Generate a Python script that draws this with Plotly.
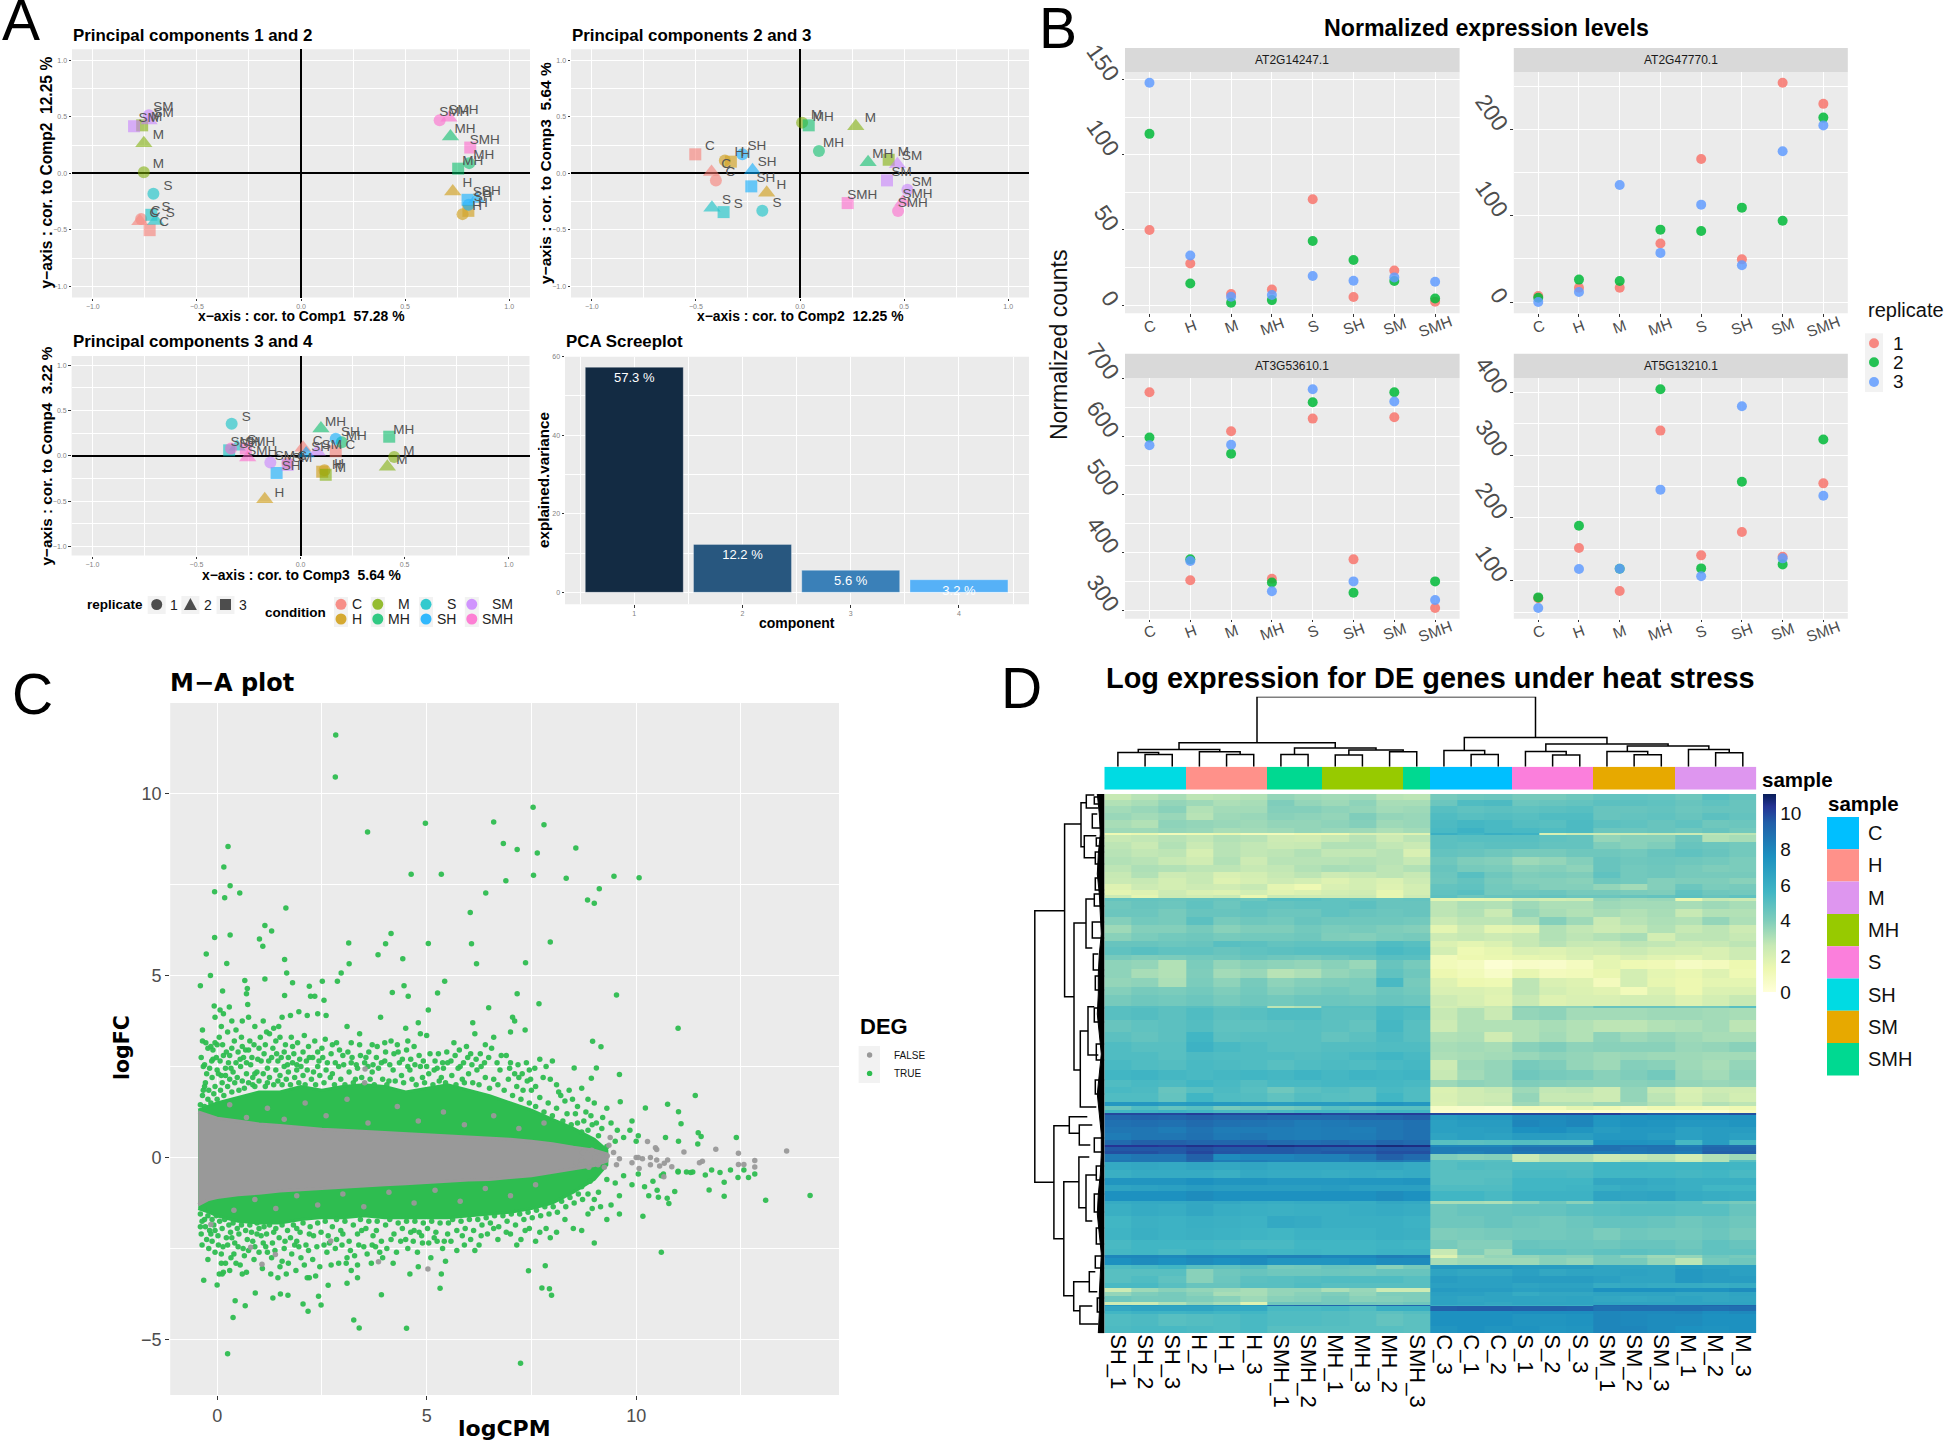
import plotly.graph_objects as go

W, H = 1944, 1440
FONT = "Liberation Sans"

# ---------- Panel A data ----------
CONDITIONS = ["C", "H", "M", "MH", "S", "SH", "SM", "SMH"]
COND_COLORS = ["#F8766D", "#CD9600", "#7CAE00", "#00BE67", "#00BFC4", "#00A9FF", "#C77CFF", "#FF61CC"]
PC1 = [-.768,-.774,-.727, .776,.729,.804, -.755,-.755,-.763, .808,.718,.755, -.709,-.698,-.719, .805,.844,.80, -.731,-.73,-.802, .666,.711,.813]
PC2 = [-.404,-.425,-.503, -.361,-.16,-.332, .01,.268,.426, .091,.327,.042, -.181,-.423,-.367, -.277,-.228,-.234, .516,.468,.418, .471,.494,.229]
PC3 = [-.062,.012,.169, .115,-.172,.104, .45,.417,.121, .198,.098,.426, -.331,-.305,-.343, .169,.027,-.115, -.145,.08,-.062, -.334,-.254,-.263]
PC4 = [-.08,.088,.05, -.16,-.48,-.176, -.015,-.12,-.21, .15,.30,.21, .353,.1,.06, .187,.025,-.19, -.074,.044,-.10, .08,-.02,.08]
SCREE_X = [1, 2, 3, 4]
SCREE_Y = [57.3, 12.2, 5.6, 3.2]
SCREE_TXT = ["57.3 %", "12.2 %", "5.6 %", "3.2 %"]
SCREE_COL = ["#132B43", "#28577F", "#3A80B8", "#56B1F7"]

# ---------- Panel B data ----------
B_GENES = ["AT2G14247.1", "AT2G47770.1", "AT3G53610.1", "AT5G13210.1"]
B1_R1 = [50,27.7,7.3,10.4,70.5,5.3,23,2.2]
B1_R2 = [114,14.4,1.5,3.3,42.6,30,16,4.4]
B1_R3 = [148,33,5.5,6.7,19.3,16.2,18.4,15.5]
B2_R1 = [7,16.6,16.6,68,166,49.5,254.5,230]
B2_R2 = [5,26,24.4,84,82.4,109.5,94.4,214]
B2_R3 = [0,11.6,135.8,57,113,42.6,175,205]
B3_R1 = [676,352,608.6,354.6,630.5,388,633,304]
B3_R2 = [598,388,570,348,658.6,330.5,676,350]
B3_R3 = [584.5,385,585.6,333,681,350,660,318]
B4_R1 = [72,152,83.5,339,140.4,177.5,138,255]
B4_R2 = [73.4,187.6,119,405,119.6,257.7,126,325]
B4_R3 = [56.5,118.6,119,245,107,377.7,135.6,235.4]
REP_COLORS = ["#F8766D", "#00BA38", "#619CFF"]

# ---------- Panel C data ----------
ENV_X = [-0.45,-0.2,0,0.5,1,1.5,2,2.5,3,3.5,4,4.5,5,5.5,6,6.5,7,7.5,8,8.5,9,9.3]
GREY_UP = [1.25,1.15,1.08,1.0,.92,.88,.82,.78,.75,.72,.68,.65,.62,.60,.58,.55,.5,.45,.38,.28,.2,.1]
GREY_LO = [-1.3,-1.15,-1.1,-1.02,-.98,-.92,-.88,-.85,-.82,-.78,-.75,-.72,-.7,-.66,-.62,-.6,-.55,-.5,-.42,-.32,-.22,-.1]
GREEN_UP = [1.3,1.4,1.5,1.65,1.8,1.8,1.95,1.85,1.95,2.0,1.95,1.8,1.9,2.0,1.85,1.7,1.5,1.3,1.05,.8,.5,.2]
GREEN_LO = [-1.4,-1.5,-1.6,-1.75,-1.8,-1.8,-1.7,-1.65,-1.65,-1.6,-1.65,-1.65,-1.65,-1.65,-1.6,-1.55,-1.5,-1.4,-1.25,-.95,-.6,-.2]
GREEN_TOP = [(2.83,11.6),(2.82,10.45),(7.54,9.62),(4.97,9.18),(6.6,9.21),(7.8,9.14),(3.59,8.94),(6.83,8.62),(7.16,8.46),(7.64,8.36),(8.56,8.5),(.26,8.54),(.16,7.98),(4.63,7.78),(5.35,7.78),(7.55,7.75),(6.89,7.6),(8.33,7.67),(9.47,7.72),(10.07,7.68),(.31,7.46),(-.06,7.3),(.54,7.26),(.18,7.13),(6.41,7.26),(9.12,7.38),(8.84,7.07),(9.0,6.98),(1.64,6.85),(6.04,6.73),(1.14,6.37),(1.3,6.22),(4.15,6.15),(.31,6.11),(-.06,6.04),(1.01,6.0),(3.14,5.89),(5.04,5.88),(4.02,5.87),(6.07,5.87),(7.95,5.92),(1.09,5.8),(-.26,5.59),(3.84,5.57),(4.43,5.46),(1.61,5.44),(.23,5.33),(3.15,5.32),(6.19,5.32),(7.36,5.35),(1.66,5.07),(2.96,5.07),(-.16,5.0),(1.14,4.9),(.66,4.86),(2.51,4.84),(2.87,4.84),(5.43,4.84),(-.4,4.72),(1.8,4.8),(2.2,4.7),(4.46,4.72),(.72,4.64),(.13,4.57),(4.18,4.53),(5.26,4.52),(.7,4.5),(1.61,4.45),(2.23,4.43),(2.33,4.43),(4.56,4.43),(7.16,4.5),(9.53,4.46),(2.55,4.32),(7.68,4.22),(-.07,4.16),(.29,4.13),(.73,4.2),(6.48,4.11),(5.04,4.05),(.07,4.05),(11.0,3.55),(11.41,1.7),(11.01,1.26),(10.75,1.46),(11.07,.93),(10.22,1.36),(9.62,1.53),(9.6,2.28),(9.16,3.04),(8.96,3.19),(9.05,2.46),(8.93,2.18),(8.52,2.46),(12.39,.55),(11.48,.68),(11.55,.58),(11.01,.45),(10.7,.55),(11.47,.37)]
GREEN_MID_UP = [(-.35,3.5),(-.35,3.2),(-.33,2.5),(-.3,2.55),(-.25,2.3),(-.33,1.85),(-.3,1.95),(-.22,3.0),(-.15,3.05),(-.1,2.95),(-.05,3.15),(0,3.1),(.05,3.3),(-.1,2.7),(0,2.4),(.1,2.25),(.2,2.25),(.15,2.8),(.3,2.8),(.35,3.0),(.45,2.6),(.55,2.7),(.75,2.95),(.7,2.6),(.9,2.3),(1,3.0),(1.15,3.1),(1.25,3.4),(1.35,3.55),(1.4,3.2),(1.5,3.3),(1.6,2.9),(1.7,2.75),(1.8,3.05),(1.9,2.55),(2.05,2.9),(2.2,2.75),(2.4,2.9),(2.5,3.0),(2.75,3.1),(2.85,3.15),(3,2.8),(3.2,3.15),(3.4,3.1),(3.55,2.75),(3.7,3.1),(3.8,2.75),(4,3.15),(4.15,3.2),(4.3,3.1),(4.55,3.2),(4.7,3.05),(4.85,2.5),(4.6,2.4),(5,2.5),(5.2,2.65),(5.4,2.45),(5.65,3.15),(5.8,2.5),(5.95,3.05),(6.05,2.85),(6.3,2.5),(6.55,3.0),(6.9,2.8),(7.0,2.6),(7.1,2.3),(7.45,2.4),(7.7,2.7),(7.85,2.5),(8.0,2.65),(.6,3.75),(.75,3.85),(.9,3.6),(1.1,3.75),(1.55,3.85),(1.75,3.9),(1.95,4.0),(2.15,3.9),(2.4,3.95),(2.6,3.9),(3.1,3.6),(3.4,3.4),(3.9,3.85),(4.5,3.55),(4.8,3.7),(4.85,3.4),(5.0,3.35),(6.1,3.7),(6.15,3.4),(7.05,3.85),(7.1,3.75),(7.35,3.5),(7.0,3.45),(6.6,3.3),(6.4,3.1),(.45,3.5),(.35,3.75),(.25,3.45),(.1,3.6),(.15,3.95),(-.05,3.85),(.6,3.05),(.85,2.0),(1.2,2.05),(1.45,2.1),(2.3,2.35),(2.75,2.3),(3.3,2.15),(3.7,2.35),(4.1,2.1),(4.4,2.25),(5.3,2.1),(5.9,2.05),(6.6,2.15),(7.2,2.2),(7.4,2.1),(7.6,1.95),(8.1,2.0),(8.4,1.85),(8.7,1.9),(9.0,1.5),(9.3,1.35),(8.85,1.6),(8.6,1.4),(8.2,1.7),(8.75,1.0),(8.95,.9),(9.2,1.1),(9.4,.95),(9.55,.75),(9.7,.55),(9.85,.75),(10.0,.45),(9.5,.45),(9.1,.6),(9.3,.3),(9.9,1.0),(10.05,.6)]
GREEN_MID_LO = [(-.4,-1.9),(-.38,-2.1),(-.3,-1.7),(-.25,-2.25),(-.2,-2.5),(-.15,-2.1),(-.05,-2.0),(-.05,-2.6),(.1,-2.65),(.25,-2.4),(.35,-2.2),(.4,-2.65),(.15,-3.15),(.1,-2.9),(.3,-3.1),(.55,-2.95),(.7,-3.15),(.85,-2.3),(.95,-2.1),(1.1,-2.35),(1.2,-2.6),(1.3,-2.75),(1.5,-3.0),(1.45,-3.3),(1.65,-3.2),(1.7,-2.9),(1.85,-2.4),(2.0,-2.75),(2.2,-3.3),(2.35,-3.25),(2.55,-2.4),(2.2,-2.1),(2.65,-2.15),(2.85,-2.25),(2.9,-2.9),(3.1,-2.75),(3.2,-3.1),(3.35,-2.95),(3.5,-2.45),(3.7,-2.4),(3.8,-2.0),(3.95,-2.75),(4.2,-2.9),(4.5,-2.25),(4.7,-2.0),(4.9,-2.35),(5.1,-2.75),(5.25,-2.3),(5.45,-2.85),(5.5,-2.1),(5.9,-2.4),(6.15,-2.55),(6.3,-2.15),(6.6,-1.95),(7.0,-2.1),(7.15,-2.4),(7.35,-2.0),(7.6,-2.3),(7.85,-1.95),(8.1,-2.05),(8.7,-2.0),(9.0,-2.35),(9.3,-1.7),(9.6,-1.55),(4.6,-3.2),(4.8,-3.0),(5.35,-3.2),(.0,-3.5),(.05,-3.2),(1.35,-2.05),(1.0,-1.95),(3.35,-3.3),(3.45,-2.0),(3.0,-2.1),(3.1,-3.45),(1.9,-1.95),(2.15,-3.3),(8.7,-.8),(8.9,-.65),(9.1,-.95),(9.3,-.6),(9.5,-.7),(9.7,-.5),(9.9,-.75),(10.05,-.45),(10.2,-.8),(10.4,-.65),(10.6,-.5),(9.6,-1.05),(9.4,-1.3),(9.0,-1.15),(10.3,-1.05),(10.5,-.9),(10.65,-.45),(8.85,-1.0),(9.15,-1.35),(11.0,-.4),(11.2,-.4),(11.35,-.4)]
GREEN_EDGE_UP = [(-.4,1.45),(-.35,1.7),(-.3,1.4),(-.28,2.05),(-.22,1.6),(-.2,1.85),(-.15,1.5),(-.12,2.2),(-.08,1.75),(-.05,1.95),(0,1.6),(.03,2.3),(.08,1.85),(.12,2.05),(.16,1.7),(.2,2.45),(.25,1.95),(.3,2.15),(.35,1.8),(.38,2.35),(.42,2.05),(.48,2.2),(.52,1.85),(.56,2.5),(.6,2.1),(.65,1.9),(.7,2.3),(.75,2.05),(.8,2.55),(.85,2.2),(.9,1.95),(.95,2.35),(1,2.1),(1.05,2.65),(1.1,2.3),(1.15,1.95),(1.2,2.45),(1.25,2.2),(1.3,2.75),(1.35,2.0),(1.4,2.4),(1.45,2.65),(1.5,2.25),(1.55,2.0),(1.6,2.5),(1.65,2.15),(1.7,2.35),(1.75,2.0),(1.8,2.6),(1.85,2.2),(1.9,2.4),(1.95,2.05),(2.0,2.5),(2.05,2.25),(2.1,2.0),(2.15,2.4),(2.25,2.15),(2.35,2.0),(2.4,2.5),(2.45,2.25),(2.55,2.05),(2.6,2.4),(2.7,2.2),(2.8,2.0),(2.9,2.5),(2.95,2.15),(3.05,2.0),(3.15,2.35),(3.2,2.6),(3.25,2.05),(3.35,2.45),(3.45,2.2),(3.5,2.0),(3.6,2.5),(3.65,2.15),(3.75,2.0),(3.85,2.45),(3.95,2.15),(4.0,2.65),(4.05,2.0),(4.2,2.4),(4.25,2.1),(4.35,2.6),(4.45,2.05),(4.55,2.5),(4.65,2.15),(4.75,2.0),(4.9,2.2),(4.95,2.05),(5.05,2.3),(5.15,2.0),(5.25,2.45),(5.35,2.2),(5.45,2.05),(5.5,2.6),(5.6,2.25),(5.7,2.0),(5.75,2.45),(5.85,2.15),(6.0,2.3),(6.1,2.05),(6.2,2.4),(6.25,2.0),(6.4,2.2),(6.5,1.9),(6.7,2.0),(6.75,2.4),(6.85,1.85),(6.95,2.15),(7.05,1.7),(7.15,1.95),(7.25,1.6),(7.3,1.85),(7.45,1.5),(7.5,1.85),(7.6,1.4),(7.7,1.65),(7.8,1.25),(7.9,1.5),(8.0,1.15),(8.1,1.35),(8.25,1.0),(8.35,1.2),(8.45,.9),(8.6,.95),(8.7,.7),(8.85,.75)]
GREEN_EDGE_LO = [(-.4,-1.55),(-.36,-1.75),(-.32,-1.4),(-.28,-1.9),(-.22,-1.6),(-.18,-2.0),(-.12,-1.7),(-.08,-1.85),(-.02,-1.6),(.02,-2.15),(.06,-1.75),(.12,-1.95),(.18,-1.7),(.22,-2.2),(.28,-1.85),(.32,-2.05),(.38,-1.8),(.42,-2.35),(.48,-1.95),(.52,-2.1),(.58,-1.85),(.62,-2.5),(.68,-2.0),(.72,-2.25),(.78,-1.85),(.82,-2.05),(.9,-2.45),(.95,-1.8),(1.05,-2.15),(1.12,-1.9),(1.18,-2.1),(1.25,-1.85),(1.32,-2.35),(1.4,-1.95),(1.48,-2.2),(1.55,-1.85),(1.6,-2.5),(1.68,-2.0),(1.75,-2.2),(1.82,-1.85),(1.9,-2.3),(1.98,-2.05),(2.05,-1.8),(2.12,-2.4),(2.22,-1.9),(2.3,-2.15),(2.4,-1.8),(2.48,-2.05),(2.58,-1.75),(2.68,-2.35),(2.75,-1.9),(2.85,-1.7),(2.95,-2.0),(3.05,-1.75),(3.15,-2.3),(3.25,-1.85),(3.35,-2.1),(3.42,-1.7),(3.55,-1.95),(3.62,-1.75),(3.72,-2.15),(3.82,-1.75),(3.92,-2.3),(4.02,-1.85),(4.12,-1.7),(4.22,-2.1),(4.32,-1.8),(4.42,-1.95),(4.52,-1.75),(4.62,-2.05),(4.72,-1.75),(4.82,-2.05),(4.92,-1.8),(5.02,-1.95),(5.12,-1.75),(5.22,-2.05),(5.32,-1.8),(5.42,-2.3),(5.52,-1.8),(5.62,-1.7),(5.72,-2.0),(5.82,-1.75),(5.92,-1.95),(6.02,-1.7),(6.12,-2.0),(6.22,-1.7),(6.32,-1.85),(6.42,-1.65),(6.52,-1.8),(6.62,-1.6),(6.72,-1.9),(6.82,-1.6),(6.92,-1.75),(7.02,-1.55),(7.12,-1.85),(7.22,-1.55),(7.32,-1.7),(7.42,-1.5),(7.52,-1.65),(7.62,-1.45),(7.72,-1.6),(7.82,-1.35),(7.92,-1.55),(8.02,-1.35),(8.12,-1.5),(8.22,-1.2),(8.32,-1.35),(8.42,-1.1),(8.52,-1.25),(8.62,-1.0),(8.72,-1.15)]
GREEN_FILL_UP = [(-.38,2.75),(-.27,3.15),(-.18,2.45),(-.13,2.65),(-.02,2.75),(.07,2.65),(.13,3.1),(.22,2.9),(.27,2.6),(.33,2.45),(.41,3.2),(.5,2.9),(.58,3.3),(.63,2.75),(.68,2.95),(.78,3.2),(.83,2.75),(.88,3.1),(.97,2.7),(1.03,3.3),(1.12,2.85),(1.18,3.45),(1.23,2.65),(1.33,3.0),(1.42,2.85),(1.47,3.6),(1.53,2.75),(1.63,3.1),(1.68,2.55),(1.77,3.3),(1.83,2.85),(1.92,3.15),(1.97,2.7),(2.08,3.35),(2.13,2.65),(2.18,3.05),(2.28,2.75),(2.33,3.2),(2.43,2.65),(2.52,2.75),(2.58,3.25),(2.63,2.6),(2.72,2.85),(2.82,2.6),(2.92,2.95),(3.02,2.55),(3.12,2.9),(3.22,2.75),(3.32,2.55),(3.42,2.8),(3.52,2.6),(3.62,2.9),(3.72,2.55),(3.82,3.05),(3.92,2.6),(4.02,2.9),(4.12,2.55),(4.22,2.85),(4.32,2.9),(4.42,2.7),(4.52,2.95),(4.62,2.7),(4.72,2.55),(4.82,2.8),(4.92,2.65),(5.08,2.85),(5.18,2.4),(5.28,2.85),(5.38,2.6),(5.48,2.9),(5.58,2.65),(5.68,2.8),(5.78,2.95),(5.88,2.6),(5.98,2.75),(6.08,2.55),(6.18,2.7),(6.28,2.85),(6.38,2.6),(6.48,2.75),(6.68,2.6),(6.78,2.8),(6.98,2.45),(7.18,2.55),(7.28,2.3),(7.38,2.6),(7.48,2.15),(7.58,2.45),(7.78,2.2),(7.95,2.15),(8.15,1.8),(8.3,1.55),(8.48,1.6),(8.55,1.2),(8.8,1.25),(8.92,1.15),(9.05,.95),(9.18,.8)]
GREEN_FILL_LO = [(-.36,-2.4),(-.22,-2.8),(-.12,-2.3),(.03,-2.4),(.14,-2.45),(.2,-2.9),(.33,-2.75),(.45,-2.9),(.5,-2.45),(.6,-3.2),(.65,-2.7),(.75,-2.55),(.88,-2.8),(1.0,-2.6),(1.08,-3.05),(1.16,-2.45),(1.28,-3.2),(1.38,-2.55),(1.55,-2.85),(1.62,-2.3),(1.78,-2.65),(1.88,-3.1),(1.95,-2.45),(2.08,-2.95),(2.18,-2.55),(2.28,-2.8),(2.38,-2.45),(2.45,-3.0),(2.62,-2.6),(2.72,-2.95),(2.82,-2.5),(2.98,-2.4),(3.08,-2.9),(3.18,-2.55),(3.28,-2.7),(3.38,-2.4),(3.58,-2.65),(3.68,-2.9),(3.78,-2.45),(3.88,-2.6),(4.05,-2.5),(4.15,-2.25),(4.28,-2.6),(4.38,-2.3),(4.55,-2.5),(4.68,-2.3),(4.78,-2.6),(4.88,-2.15),(5.05,-2.35),(5.18,-2.2),(5.38,-2.5),(5.58,-2.3),(5.72,-2.55),(5.85,-2.15),(6.05,-2.25),(6.25,-2.4),(6.45,-2.1),(6.7,-2.25),(6.9,-2.05),(7.25,-2.25),(7.45,-1.95),(7.7,-2.05),(7.95,-2.2),(8.3,-1.7),(8.5,-1.95),(8.85,-1.55),(8.95,-1.4)]
GREEN_BOTTOM = [(.25,-5.39),(7.24,-5.65),(3.26,-4.46),(3.39,-4.68),(4.52,-4.69),(.38,-4.39),(.67,-4.07),(.43,-3.93),(.91,-3.72),(1.33,-3.86),(1.51,-3.75),(1.69,-3.78),(2.05,-4.02),(2.17,-4.22),(2.42,-3.81),(2.48,-4.05),(7.93,-3.6),(7.75,-3.58),(7.98,-3.78),(7.43,-3.11),(7.83,-2.97),(5.32,-3.59),(3.92,-3.77),(2.65,-3.51),(-.32,-3.37),(.12,-3.2),(14.15,-1.04),(13.09,-1.17),(12.83,-.45),(12.68,-.55),(12.43,-.55),(12.57,-.34),(12.25,-.34),(12.0,-.41),(11.8,-.34),(11.65,-.48),(12.1,-1.06),(11.74,-.89),(12.1,-.68),(11.3,-.41),(11.0,-.38),(10.78,-1.26),(10.92,-.93),(10.53,-1.09),(10.74,-1.12),(10.16,-1.61),(10.6,-2.6)]
GREY_POINTS = [(13.59,.18),(12.83,-.08),(12.83,-.26),(12.44,.12),(12.44,-.19),(12.57,-.19),(11.9,.23),(11.58,-.1),(11.51,-.14),(11.14,.15),(10.85,-.25),(10.75,-.07),(10.66,-.53),(10.67,-.16),(10.56,-.23),(10.49,.22),(10.34,0),(10.27,.44),(10.15,-.03),(10.07,-.3),(10.0,0),(9.9,-.14),(9.6,-.03),(9.53,-.2),(9.46,.14),(9.31,.04),(9.24,-.27),(9.09,-.2),(9.02,0),(8.94,.2),(8.72,.14),(8.69,-.07),(8.57,-.14),(8.87,-.27),(9.38,.55),(9.35,.34),(10.46,.27),(10.34,-.2),(10.49,-.07),(10.05,0),(3.53,2.43),(3.52,2.05),(.8,-2.46),(1.07,-2.93),(1.39,-2.66),(3.85,-2.86),(5.03,-3.06),(-.15,-1.84),(2.71,-2.29),(.3,1.45),(.7,1.1),(1.2,1.35),(1.6,1.05),(2.1,1.5),(2.6,1.15),(3.1,1.6),(3.6,.95),(4.3,1.4),(4.8,1.0),(5.4,1.25),(5.9,.9),(6.6,1.15),(7.2,.8),(7.8,.95),(.4,-1.45),(.9,-1.15),(1.4,-1.4),(1.9,-1.05),(2.4,-1.3),(3.0,-1.0),(3.5,-1.35),(4.1,-.95),(4.7,-1.25),(5.2,-.9),(5.8,-1.2),(6.4,-.85),(7.0,-1.05),(7.6,-.75)]

# ---------- Panel D data ----------
HEAT_LABELS = ["SH_1","SH_2","SH_3","H_2","H_1","H_3","SMH_1","SMH_2","MH_1","MH_3","MH_2","SMH_3","C_3","C_1","C_2","S_1","S_2","S_3","SM_1","SM_2","SM_3","M_1","M_2","M_3"]
ANNOT_NAMES = ["C","H","M","MH","S","SH","SM","SMH"]
ANNOT_COLORS = ["#00BFFF","#FF918A","#DE96EF","#97CA00","#FB7FDC","#00DBE3","#E7A900","#00D991"]
ANNOT_CODES = [5,5,5,1,1,1,7,7,3,3,3,7,0,0,0,4,4,4,6,6,6,2,2,2]
HEAT_SPANS = [6,6,7,7,8,5,2,7,7,8,8,7,6,6,6,6,3, 3,8,8,8,8,8,6,8,5,9,9,9,8,11, 2,12,12,10,10,8,10,10,7,6,10,4,4,3, 2,5,7,6,7,5,2,4,3,6,2, 8,8,7,6,10,3,12,12,12,9,6,3,7, 4,7,7,5,4,5,6,3,1,5,3,12,7]
HEAT_ROWS = [
[2.6,2.9,3.2,2.8,2.9,3.0,3.6,3.4,3.3,3.4,2.9,2.8,4.2,4.4,4.5,4.2,4.2,4.4,4.7,4.8,4.7,4.4,5.0,4.7],
[3.0,3.2,3.6,3.4,3.1,3.2,4.0,3.6,3.4,3.7,3.2,3.2,4.5,5.2,5.3,4.5,4.6,4.7,4.9,4.9,4.8,4.6,4.8,4.6],
[3.3,3.5,3.8,3.0,3.3,3.3,3.9,3.9,3.7,3.6,3.3,3.4,5.0,4.8,4.9,4.8,4.9,5.0,4.6,4.6,4.7,4.5,4.6,4.6],
[3.5,3.3,3.5,2.9,3.4,3.5,3.8,3.7,3.6,4.0,3.6,3.5,5.2,5.0,5.1,5.0,5.2,5.2,4.6,4.7,4.8,4.6,4.9,4.7],
[3.2,3.0,3.7,3.6,3.5,3.4,3.6,3.6,3.7,3.9,3.4,3.5,5.3,5.5,5.4,5.1,5.0,5.3,4.9,4.8,4.6,4.8,4.4,4.5],
[3.4,3.4,3.6,3.5,3.2,3.3,3.4,3.6,3.5,3.4,3.1,3.3,5.4,5.8,5.4,5.4,5.2,5.3,4.5,4.5,4.6,4.4,4.6,4.3],
[1.2,1.4,1.0,1.2,1.4,1.0,1.0,1.3,1.3,2.0,2.0,1.8,6.0,5.6,6.0,5.8,2.0,2.4,2.4,2.4,2.6,2.4,2.8,2.8],
[2.6,2.7,2.9,2.7,3.0,2.9,2.4,2.3,2.6,2.9,2.4,2.8,4.9,5.0,5.0,5.0,4.8,4.7,3.6,3.8,3.8,4.4,3.0,3.2],
[2.8,2.5,3.0,2.5,2.9,2.7,2.5,2.6,3.0,3.0,2.7,2.5,4.9,4.8,4.9,4.9,4.7,4.7,4.0,3.8,4.0,4.6,4.5,4.3],
[2.9,2.7,2.8,2.1,2.9,2.7,2.8,3.0,2.7,2.7,2.9,2.0,4.7,4.6,4.4,4.2,4.2,4.4,4.4,4.3,4.6,4.8,4.6,4.3],
[3.0,2.9,2.6,2.3,3.0,2.4,2.9,2.9,2.9,3.0,2.9,2.6,4.4,4.0,3.9,3.4,3.6,3.9,4.6,4.4,4.5,4.4,4.3,4.1],
[2.8,3.1,3.0,2.8,2.8,2.6,2.7,3.0,3.2,3.1,2.8,3.0,4.6,4.2,4.1,3.8,3.9,3.7,4.6,4.3,4.4,4.2,4.0,4.1],
[2.6,3.0,2.4,2.6,2.0,2.2,2.6,2.8,2.4,2.6,2.8,2.6,4.5,5.0,4.4,4.0,4.1,4.0,4.8,4.3,4.4,4.2,4.2,4.2],
[2.5,2.6,2.2,2.6,1.8,2.1,2.4,2.2,1.8,2.2,1.9,2.4,4.4,4.7,4.2,3.9,3.9,3.8,4.4,4.3,3.9,4.0,4.0,3.8],
[1.8,2.4,2.2,2.4,2.3,2.6,1.6,1.2,2.0,2.2,1.8,2.2,4.7,4.8,4.3,4.1,3.9,3.9,3.6,3.3,3.9,4.5,4.1,4.2],
[1.6,1.8,2.4,2.0,1.8,2.2,1.7,1.9,2.2,2.3,1.5,2.2,4.8,5.0,4.3,4.4,4.5,4.2,4.2,4.1,4.0,4.8,4.4,4.3],
[2.4,1.6,2.5,2.3,2.5,1.4,2.5,2.4,2.4,2.5,1.5,2.4,4.9,4.5,4.6,4.6,4.7,4.5,4.5,4.6,4.7,4.9,4.6,4.8],
[4.7,4.7,4.6,4.7,4.6,4.5,5.0,5.0,4.8,4.7,4.6,4.7,1.6,1.5,1.6,2.4,2.2,2.3,3.6,3.4,3.5,1.4,2.6,2.4],
[4.4,4.6,4.5,4.8,4.5,4.8,4.7,4.8,4.8,4.9,4.6,4.6,2.8,3.1,3.0,3.4,3.1,3.1,3.4,3.3,3.3,3.2,3.4,3.2],
[4.5,4.5,4.2,4.6,4.6,4.7,4.5,4.5,4.8,4.6,4.5,4.6,2.8,3.0,2.5,3.6,3.2,3.0,3.2,3.0,3.2,2.6,3.0,3.0],
[3.9,4.3,4.2,4.9,4.2,4.4,4.3,4.6,4.4,4.4,4.4,4.3,2.5,2.8,2.8,3.1,3.9,3.4,2.5,2.9,3.1,3.0,3.6,3.1],
[3.4,3.9,3.9,4.2,3.8,4.0,4.0,4.3,4.1,4.2,4.0,3.9,1.6,2.4,1.6,1.8,3.0,2.7,2.4,2.6,3.0,2.6,2.8,2.4],
[3.8,4.1,4.3,4.4,4.2,4.3,4.3,4.4,4.0,3.9,4.1,4.2,2.4,2.6,2.4,2.6,3.0,2.8,3.0,3.2,2.2,2.8,2.8,2.6],
[4.6,4.6,4.5,4.6,5.0,4.9,4.7,4.8,4.8,4.8,5.2,5.0,1.9,1.6,1.9,2.6,2.9,2.6,2.5,2.8,2.7,2.4,2.6,2.8],
[4.8,5.0,4.8,4.8,4.6,4.8,4.9,5.0,5.0,5.0,5.4,5.2,2.2,1.2,1.5,2.0,1.8,2.1,2.3,2.5,2.2,2.2,2.0,2.4],
[4.2,4.0,4.1,4.3,4.4,4.6,4.4,4.3,4.5,4.7,5.0,5.0,1.0,1.3,1.4,1.5,1.6,2.0,1.6,2.0,1.7,1.6,2.0,2.4],
[3.7,3.6,3.0,4.1,3.6,3.8,3.7,3.6,3.8,3.5,4.6,4.2,1.0,0.8,0.2,0.6,0.5,0.8,1.6,1.2,1.1,0.7,0.9,1.3],
[3.7,3.2,3.0,4.0,3.3,3.5,2.9,3.1,3.6,3.8,4.8,4.4,1.3,1.0,0.6,1.5,0.9,1.0,1.4,2.2,1.6,1.4,1.8,1.2],
[3.6,3.7,3.1,4.1,3.7,4.2,3.7,3.9,4.0,4.1,5.4,4.2,1.8,1.3,1.2,2.8,2.0,1.8,0.9,2.2,1.5,1.3,1.6,1.6],
[3.9,4.2,4.1,4.3,4.0,4.3,3.9,4.1,4.3,4.1,4.5,4.3,2.0,2.0,1.8,2.8,2.2,1.9,1.7,1.0,1.9,1.3,1.9,1.9],
[4.2,4.4,4.3,4.5,4.2,4.4,4.3,4.5,4.5,4.4,4.6,4.5,2.4,2.1,1.7,2.6,1.8,2.0,2.0,2.2,2.2,1.8,2.2,2.6],
[5.0,5.0,4.9,5.0,4.8,4.8,2.8,3.0,5.0,5.0,5.4,5.4,2.2,2.4,2.6,3.8,3.8,3.8,4.6,4.6,4.6,4.4,4.4,5.0],
[5.0,5.1,4.9,5.2,4.9,5.0,5.2,5.2,4.9,4.9,5.4,5.2,2.6,3.0,2.5,3.6,3.7,3.3,3.3,3.3,3.4,3.4,3.3,3.2],
[4.6,4.8,4.9,5.1,4.8,4.8,4.9,5.0,4.9,4.7,5.5,5.0,2.4,3.0,3.0,3.0,3.2,3.0,2.8,2.8,3.0,3.1,3.3,2.8],
[4.9,4.7,4.9,5.6,4.9,5.0,5.0,5.0,4.7,4.9,5.3,5.0,3.0,3.1,2.3,3.0,3.3,3.0,3.7,3.4,3.6,3.4,3.2,3.2],
[5.2,5.0,5.0,5.8,5.4,5.2,5.0,5.0,5.1,5.1,5.2,5.2,3.2,3.3,3.2,3.8,4.0,3.7,3.8,3.8,3.8,3.5,3.6,3.8],
[5.2,5.2,5.0,5.3,5.2,5.2,5.2,5.1,5.2,5.4,5.6,5.4,3.1,3.2,3.3,3.5,3.7,3.6,3.4,3.5,3.4,3.4,3.3,3.3],
[5.4,5.2,5.1,5.4,5.3,5.2,5.0,5.2,5.3,5.2,5.4,5.5,2.4,3.4,3.6,4.2,4.0,3.6,3.4,3.9,3.8,3.4,3.2,3.6],
[5.6,5.7,5.5,5.4,5.5,5.6,5.5,5.7,5.5,5.7,5.6,5.7,2.6,3.3,3.6,4.4,4.2,4.1,3.8,4.0,4.3,3.5,3.3,3.7],
[5.2,5.4,5.3,5.6,5.4,5.1,5.4,5.4,5.5,5.5,5.5,5.4,3.4,3.7,3.6,4.0,3.9,3.8,3.8,3.8,3.9,3.6,3.5,3.6],
[5.4,5.3,4.6,5.0,5.3,5.0,4.4,4.9,5.1,4.9,5.4,5.2,1.9,2.3,2.6,3.4,2.7,2.8,2.4,3.6,2.6,2.0,2.4,2.3],
[5.2,5.2,4.7,5.6,5.2,5.1,4.8,5.1,5.0,4.9,5.6,5.2,2.0,2.3,2.4,3.6,2.6,2.6,2.4,3.6,2.8,2.1,2.6,2.2],
[7.2,7.2,7.0,7.1,7.1,7.0,6.9,7.0,7.0,7.1,7.4,7.2,1.9,2.4,2.6,3.4,3.0,3.0,3.4,3.4,3.0,2.4,3.0,2.8],
[4.6,5.2,4.7,5.0,4.2,4.4,4.2,4.4,5.0,4.8,5.0,5.0,0.6,0.5,0.4,1.0,1.0,1.6,1.2,0.9,1.2,1.2,1.0,1.2],
[5.6,5.7,5.8,5.6,5.4,5.3,5.4,5.6,5.6,5.4,5.6,5.6,0.4,0.3,0.3,0.4,0.5,0.4,0.4,0.4,0.4,0.4,0.4,0.8],
[10,10,10,10.2,10,10,10.2,10.2,10,10,10.2,10.2,10,10,10,10,10,10,10.2,9.8,9.6,9.6,9.6,9.8],
[9.2,9.3,9.2,9.4,9.2,9.2,9,9,9,9.2,9.2,9.4,7,7.2,7.2,7.9,7.9,8,7.4,7.5,7.6,7.5,7.5,7.5],
[8.8,8.9,8.8,9,8.8,8.7,8.6,8.4,8.5,8.6,8.6,8.8,6.8,7,7,8,7.8,8,7.3,7.5,7.4,7.2,7.2,7.4],
[8.6,8.6,8.4,8.7,8.4,8.4,8.4,8.3,8.4,8.3,8.6,8.8,6.8,6.8,6.9,7.6,7.7,7.4,7,7.2,7.2,6.8,7,7],
[8.4,8.6,8.6,8.8,8.5,8.6,8.4,8.3,8.4,8.4,8.6,8.8,6.6,6.8,6.7,7.0,7,6.9,7.2,7.2,7,6.8,7,6.8],
[9.0,9.4,9.4,9.2,9.2,9.2,9,8.9,9,8.8,9.2,9,5,4.9,5,5.1,5,5,7.5,7.5,7.4,5.5,7,5.5],
[10.4,10.4,10.3,10.5,10.4,10.4,10.6,10.5,10.5,10.5,10.7,10.6,8,8,8,8.4,8.4,8.4,8.8,8.8,8.8,8.4,9.0,9.0],
[9.6,9.6,9.6,9.8,9.6,9.6,9.6,9.5,9.4,9.4,9.6,9.6,8.4,8.4,8.4,8.8,8.8,8.8,8.8,8.6,8.7,8.6,9.2,9.2],
[9.8,9.8,9.6,10,9.7,9.6,9.6,9.5,9.6,9.6,9.8,9.8,8.4,8.2,8.4,8.6,8.6,8.6,8.4,8.5,8.6,8.4,9.4,9.4],
[8.4,8.6,8.6,9.4,7.8,8,8,8.2,8.2,8.6,9.4,9,4,3.8,3.9,2.4,3,3,2.4,2.6,2.8,2.2,3,3.4],
[8.6,8.6,8.6,9.2,8.4,8.4,8.2,8.2,8.2,8.4,8.6,8.4,5,5,5,2.6,3,3,2.5,3,3,2.4,3,5],
[6.3,6.4,6.3,6.5,6.4,6.5,6.3,6.3,6.3,6.3,6.4,6.2,5,5.2,5.1,5.2,5.2,5.2,5.6,5.7,5.6,5.6,5.7,5.6],
[6.0,6.2,6.2,6.2,6,6.3,6.2,6.2,6.1,6.2,6.1,6.2,5,5,5,5.4,5.4,5.3,5.6,5.6,5.6,5.5,5.6,5.4],
[7.4,7.4,7.4,7.6,7.4,7.4,7.2,7.2,7.2,7.3,7.3,7.4,5,5,5.1,5.6,5.6,5.6,6.4,6.4,6.2,6,6,6],
[6.6,6.7,6.8,7,6.9,6.9,6.9,6.9,7.0,6.8,6.8,6.8,5.2,5.2,5.2,5.6,5.6,5.7,6,6.2,6.1,6,5.6,5.6],
[7.6,7.6,7.6,7.8,7.6,7.6,7.6,7.6,7.6,7.6,7.8,7.6,5.6,5.6,5.4,5.8,5.8,5.8,6.6,6.5,6.6,6.2,6.1,6],
[6.2,6.3,6.3,6.4,6.4,6.2,6.1,6.2,6.2,6.1,6.4,6.3,3.2,3.2,3.1,3.8,4.4,3.8,4.8,4.9,5,5,4.4,4.2],
[6,6.2,6.1,6.4,6.1,6,5.9,6,6,6.1,6.2,6.1,4.4,4.6,4.6,4.7,4.7,4.9,5,5.1,5.1,5,5,4.6],
[5.6,5.9,5.8,6,5.9,5.8,6.3,6.2,6,6,6,5.8,4.4,4.4,4.6,4.4,4.3,4.5,4.7,4.7,4.6,4.4,4.6,4.4],
[5.7,6,5.8,5.9,5.8,5.7,5.6,5.8,5.8,5.8,6,5.9,4.0,4.1,4.2,4.3,4.3,4.4,4.1,4.4,4.3,4.3,4.5,4.2],
[5.4,5.6,5.6,5.6,5.5,5.4,5.4,5.6,5.6,5.6,5.7,5.6,4.2,3.9,3.9,4.6,4.5,4.5,4.4,4.6,4.6,4.4,4.8,4.6],
[5.5,5.6,5.4,5.7,5.6,5.7,5.6,5.7,5.6,5.6,5.8,5.8,2.6,4.0,3.4,4.8,4.8,4.6,4.8,4.9,4.8,4.6,4.8,4.8],
[8.0,8.0,7.9,8.1,8.0,8.0,8.2,8.2,8.0,8.0,8.3,8.2,1.8,3.2,3.6,3.6,3.8,3.8,4.2,3.8,3.4,3.6,4.4,4.2],
[7.6,7.8,7.6,7.8,7.6,7.8,7.4,7.4,7.4,7.6,7.8,7.8,3.2,3.4,3.4,3.4,3.8,3.6,4.2,4.2,3.6,2.8,4.2,4.4],
[5.2,5.4,5.6,5,4.8,5,4.2,4.3,4.6,4.5,3.8,4.2,7.2,7.2,7.2,7,7,7,6.6,6.6,6.6,7,6.8,6.8],
[5,5,5,3.8,4.4,4.6,4.4,4.4,4.5,4.4,4.6,4.6,6.6,6.4,6.4,6.8,6.4,6.6,6.6,6.7,6.6,7.2,7,6.8],
[5.0,5.2,4.8,3.8,4.5,4.9,5,5.1,5.2,5.2,5.2,5,7,6.8,6.8,7,7,7,6.8,6.6,6.6,7.2,7,7],
[5.4,5.4,5,4.6,4.6,5,5,5.2,5,5,5,5,6.8,6.8,6.8,6.6,6.7,6.7,6.2,6.3,6.2,6.2,6.1,6.2],
[2.4,3.4,3.8,3.6,3.4,3.2,3.6,3.6,3.1,3.5,2.4,2.4,7.1,7,7,6.8,6.9,6.9,7.6,7.6,7.6,7.5,7.5,7.8],
[3.6,4,4.2,3.8,3.2,3.2,3.6,3.8,4,3.6,4,4,6.8,6.8,6.6,6.2,6.4,6.4,6.6,6.6,6.6,6.4,6.4,6.6],
[4.4,4.2,4.2,4,3.8,3.4,3.8,3.9,4.2,3.8,3.9,4,6.7,6.5,6.6,6.6,6.5,6.6,6.4,6.3,6.4,6.6,6.4,6.5],
[2.4,2.4,3,3.6,3.2,1.8,4.4,4.4,4.3,4.3,4.2,4.4,6.7,6.6,6.4,6.6,6.6,6.6,6.6,6.6,6.6,6.6,6.6,6.6],
[7.2,7,6.8,6.9,7,6.8,9.0,9.2,9.2,9,9.2,9.2,6,6,6,6,6,6,9,9.2,9,9,9.2,9.2],
[6.4,6.6,6.6,6.6,6.3,6.3,5.4,5.4,5.5,5.2,6,6,9.4,9.5,9.5,9.4,9.4,9.3,8.8,8.9,8.9,8.9,8.8,8.9],
[5.6,5.8,5.7,5.8,5.6,5.6,5.2,5.2,5.1,5,4.9,5.1,7.6,7.6,7.6,7.7,7.7,7.7,8,7.9,7.9,8,7.7,7.9],
[5.2,5.3,5,5.1,5.2,5.4,5.2,5.2,5.1,5,4.7,4.9,7.6,7.6,7.6,7.4,7.4,7.5,8,7.9,7.8,7.8,7.6,7.6],
[5.3,5.4,5.4,5.3,5.2,5.4,5,5,5,5,5,4.9,7.4,7.6,7.4,7.5,7.3,7.4,8,8,7.8,7.6,7.5,7.6],
]
HEAT_STOPS = [0, 1.3, 2.6, 4.0, 5.6, 7.6, 9.5, 10.4, 11.1]
HEAT_HEX = ["#FFFFD9","#EDF8B1","#C7E9B4","#7FCDBB","#41B6C4","#1D91C0","#225EA8","#253494","#081D58"]
# dendrogram merges: left, right, height, left child height, right child height
COL_MERGES = [(1.5,2.5,12.3,0,0),(.5,2,14.3,0,12.3),(4.5,5.5,12.3,0,0),(3.5,5,15,0,12.3),(1.25,4.25,17.3,14.3,15),(6.5,7.5,12.3,0,0),(8.5,9.5,11.7,0,0),(10.5,11.5,15,0,0),(9,11,16.7,11.7,15),(7,10,18.7,12.3,16.7),(2.75,8.5,24,17.3,18.7),(13.5,14.5,12.3,0,0),(12.5,14,16.3,0,12.3),(16.5,17.5,11.7,0,0),(15.5,17,15.3,0,11.7),(19.5,20.5,12,0,0),(18.5,20,15.3,0,12),(22.5,23.5,14,0,0),(21.5,23,17.3,0,14),(19.25,22.25,20.7,15.3,17.3),(16.25,20.75,22.7,15.3,20.7),(13.25,18.5,29.3,16.3,22.7),(5.62,15.87,70,24,29.3)]
ROW_MERGES = [(116.7,388.3,69.5,39.7,50.4),(30,202.7,39.7,23.3,30.3),(8.7,52.7,23.3,18,20),(1,14,18,10,6),(41.7,63.7,20,8,9),(129,276,30.3,18.3,24),(105,154,18.3,10,12),(237,313,24,16.3,8),(212.7,261,16.3,10,6),(331.7,444.7,50.4,35,40.5),(322.7,339.3,35,17,25),(331,351,25,12,14),(387.7,501.7,40.5,25.4,30.6),(363,413.7,25.4,15,18.3),(381,427,18.3,8,12),(487.7,516.7,30.6,15,24.4),(477.7,497.7,15,9,7),(512,530,24.4,12,6),(3,10,10,6,4),(20,34,12,7,4),(44,52,8,0,0),(58,70,9,0,0),(84,96,9,5,0),(100,112,10,0,0),(128,144,12,0,0),(160,176,11,6,0),(182,196,9,0,0),(214,228,10,0,0),(250,266,8,0,0),(286,300,9,0,0),(344,358,10,0,0),(372,386,8,0,0),(400,418,10,0,0),(434,450,8,0,0),(462,474,9,0,0),(504,518,7,0,0)]
CORE_POS = [0,20,40,60,80,100,120,140,160,180,200,220,240,260,280,300,320,340,360,380,400,420,440,460,480,500,520,539]
CORE_H = [7,5,4,6,7,5,4,3,5,6,6,7,5,3,5,7,5,3,3,4,6,7,5,3,4,5,5,6]

# ---------- helpers ----------
fig = go.Figure()
layout = dict(template="none", width=W, height=H, autosize=False, margin=dict(l=0, r=0, t=0, b=0, pad=0),
              paper_bgcolor="white", plot_bgcolor="rgba(0,0,0,0)", showlegend=False,
              font=dict(family=FONT, color="black"))
annotations, shapes = [], []

def add_axes(n, box, xcfg, ycfg):
    l, t, r, b = box
    layout[f"xaxis{n}"] = dict(domain=[l / W, r / W], anchor=f"y{n}", automargin=False, **xcfg)
    layout[f"yaxis{n}"] = dict(domain=[1 - b / H, 1 - t / H], anchor=f"x{n}", automargin=False, **ycfg)

def txt(x, y, s, size=14, bold=False, color="black", anchor="center", angle=0, family=FONT):
    annotations.append(dict(x=x / W, y=1 - y / H, xref="paper", yref="paper", showarrow=False,
                            text=f"<b>{s}</b>" if bold else s, textangle=angle,
                            xanchor=anchor, yanchor="middle",
                            font=dict(size=size, color=color, family=family)))

def rect(x0, y0, x1, y1, color):
    shapes.append(dict(type="rect", xref="paper", yref="paper", x0=x0 / W, x1=x1 / W,
                       y0=1 - y0 / H, y1=1 - y1 / H, fillcolor=color, line=dict(width=0), layer="below"))

def dot(cx, cy, r, color, kind="circle", opacity=1):
    sx = lambda v: v / W
    sy = lambda v: 1 - v / H
    if kind == "circle":
        shapes.append(dict(type="circle", xref="paper", yref="paper", x0=sx(cx - r), x1=sx(cx + r),
                           y0=sy(cy - r), y1=sy(cy + r), fillcolor=color, line=dict(width=0), opacity=opacity))
    elif kind == "square":
        shapes.append(dict(type="rect", xref="paper", yref="paper", x0=sx(cx - r), x1=sx(cx + r),
                           y0=sy(cy - r), y1=sy(cy + r), fillcolor=color, line=dict(width=0), opacity=opacity))
    else:
        path = f"M {sx(cx - r - 1)} {sy(cy + r)} L {sx(cx + r + 1)} {sy(cy + r)} L {sx(cx)} {sy(cy - r - 1)} Z"
        shapes.append(dict(type="path", xref="paper", yref="paper", path=path, fillcolor=color,
                           line=dict(width=0), opacity=opacity))

GREY_BG = "#EBEBEB"
GRID = dict(showgrid=True, gridcolor="white", gridwidth=1.4, showline=False, ticks="outside",
            ticklen=2.5, tickwidth=1, tickcolor="#333333")
MINOR = lambda vals: dict(tickvals=vals, showgrid=True, gridcolor="white", gridwidth=0.8, ticks="")

# ---------- Panel A ----------
PCA_TICKS = [-1, -.5, 0, .5, 1]
PCA_MINOR = [-.75, -.25, .25, .75]
def pca_axis():
    return dict(GRID, range=[-1.1, 1.1], tickvals=PCA_TICKS, tickformat=".1f", zeroline=True, zerolinecolor="black",
                zerolinewidth=2, tickfont=dict(size=7, color="#7F7F7F"), minor=MINOR(PCA_MINOR))
PCA_BOXES = [(72, 49.3, 530, 297.5), (571, 49.3, 1029, 297.5), (71.6, 356, 529.5, 555.5)]
PCA_PAIRS = [(PC1, PC2), (PC2, PC3), (PC3, PC4)]
SYMBOLS = ["circle", "triangle-up", "square"]
SYM_SIZES = [12, 15, 12]
for i, (box, (xs, ys)) in enumerate(zip(PCA_BOXES, PCA_PAIRS), start=1):
    rect(box[0], box[1], box[2], box[3], GREY_BG)
    add_axes(i, box, pca_axis(), pca_axis())
    for c, (name, col) in enumerate(zip(CONDITIONS, COND_COLORS)):
        px, py = xs[c * 3:c * 3 + 3], ys[c * 3:c * 3 + 3]
        fig.add_trace(go.Scatter(x=px, y=py, mode="markers", xaxis=f"x{i}", yaxis=f"y{i}", name=name, opacity=0.8,
                                 marker=dict(size=SYM_SIZES, color=col, symbol=SYMBOLS, line=dict(width=0))))
    for c, name in enumerate(CONDITIONS):
        px, py = xs[c * 3:c * 3 + 3], ys[c * 3:c * 3 + 3]
        fig.add_trace(go.Scatter(x=[v + .07 for v in px], y=[v + .065 for v in py], mode="text",
                                 xaxis=f"x{i}", yaxis=f"y{i}", text=[name] * 3, cliponaxis=False,
                                 textfont=dict(size=13.5, color="#555555", family=FONT)))

txt(70.5, 35, "Principal components 1 and 2", 16.9, True, anchor="left")
txt(569.5, 35, "Principal components 2 and 3", 16.9, True, anchor="left")
txt(70.5, 341.7, "Principal components 3 and 4", 16.9, True, anchor="left")
txt(563.5, 341.7, "PCA Screeplot", 16.9, True, anchor="left")
txt(301, 316, "x−axis : cor. to Comp1  57.28 %", 13.9, True)
txt(800, 316, "x−axis : cor. to Comp2  12.25 %", 13.9, True)
txt(301, 575, "x−axis : cor. to Comp3  5.64 %", 13.9, True)
txt(45.6, 173, "y−axis : cor. to Comp2  12.25 %", 15.6, True, angle=-90)
txt(545, 173, "y−axis : cor. to Comp3  5.64 %", 15.5, True, angle=-90)
txt(45.5, 456, "y−axis : cor. to Comp4  3.22 %", 15.3, True, angle=-90)

# scree
SCREE_BOX = (565, 356.7, 1029, 604.3)
rect(*SCREE_BOX, GREY_BG)
add_axes(4, SCREE_BOX,
         dict(GRID, range=[.36, 4.647], tickvals=SCREE_X, zeroline=False, tickfont=dict(size=7, color="#7F7F7F"),
              minor=MINOR([.5, 1.5, 2.5, 3.5, 4.5])),
         dict(GRID, range=[-3.06, 60], tickvals=[0, 20, 40, 60], zeroline=False, tickfont=dict(size=7, color="#7F7F7F"),
              minor=MINOR([10, 30, 50])))
fig.add_trace(go.Bar(x=SCREE_X, y=SCREE_Y, width=.905, xaxis="x4", yaxis="y4",
                     marker=dict(color=SCREE_COL, line=dict(color="rgba(255,255,255,0.3)", width=1))))
fig.add_trace(go.Scatter(x=SCREE_X, y=[v - 3 for v in SCREE_Y], text=SCREE_TXT, mode="text", xaxis="x4", yaxis="y4",
                         cliponaxis=False, textfont=dict(size=13, color="white", family=FONT)))
txt(796.7, 623, "component", 14, True)
txt(544, 480, "explained.variance", 15.2, True, angle=-90)

# legends of panel A
txt(115, 605, "replicate", 13.5, True)
for cx, label, lx, kind in [(156.7, "1", 173.5, "circle"), (190.4, "2", 208, "triangle"), (225.5, "3", 242.8, "square")]:
    rect(cx - 9, 596, cx + 9, 614, "#F2F2F2")
    dot(cx, 604.5, 5.5, "#4D4D4D", kind)
    txt(lx, 605, label, 14, color="#222222")
txt(295, 612, "condition", 13.5, True)
for cx, top, bottom, rx, c1, c2 in [(341, "C", "H", 363.6, 0, 1), (377.8, "M", "MH", 411.5, 2, 3), (426, "S", "SH", 458, 4, 5), (471.8, "SM", "SMH", 514.8, 6, 7)]:
    rect(cx - 7, 597, cx + 7, 627, "#F2F2F2")
    dot(cx, 604.3, 5.5, COND_COLORS[c1], opacity=.8)
    dot(cx, 619, 5.5, COND_COLORS[c2], opacity=.8)
    txt(rx, 604.3, top, 14, color="#222222", anchor="right")
    txt(rx, 619, bottom, 14, color="#222222", anchor="right")

# ---------- Panel B ----------
B_BOXES = [(1125, 72.3, 1459.6, 313.3), (1513.8, 72.3, 1847.8, 313.3), (1125, 378, 1459.6, 618.7), (1513.8, 378, 1847.8, 618.7)]
B_RANGES = [[-5.5, 155], [-13.1, 266.6], [285.7, 700.5], [39.5, 422.8]]
B_TICKS = [[0, 50, 100, 150], [0, 100, 200], [300, 400, 500, 600, 700], [100, 200, 300, 400]]
B_MINOR = [[25, 75, 125], [50, 150, 250], [350, 450, 550, 650], [50, 150, 250, 350]]
B_SERIES = [(B1_R1, B1_R2, B1_R3), (B2_R1, B2_R2, B2_R3), (B3_R1, B3_R2, B3_R3), (B4_R1, B4_R2, B4_R3)]
for k in range(4):
    n = 5 + k
    l, t, r, b = B_BOXES[k]
    rect(l, t, r, b, GREY_BG)
    add_axes(n, B_BOXES[k],
             dict(GRID, type="category", categoryorder="array", categoryarray=CONDITIONS, range=[-.6, 7.6], zeroline=False,
                  showticklabels=False),
             dict(GRID, range=B_RANGES[k], tickvals=B_TICKS[k], zeroline=False, tickangle=55,
                  tickfont=dict(size=23, color="#4D4D4D"), minor=MINOR(B_MINOR[k])))
    for series, col, name in zip(B_SERIES[k], REP_COLORS, ["1", "2", "3"]):
        fig.add_trace(go.Scatter(x=CONDITIONS, y=series, mode="markers", xaxis=f"x{n}", yaxis=f"y{n}", name=name,
                                 marker=dict(size=10, color=col, opacity=.85, line=dict(width=0))))
    for cat in CONDITIONS:
        annotations.append(dict(x=cat, xref=f"x{n}", y=1 - (b + 13) / H, yref="paper", text=cat, showarrow=False, textangle=-20,
                                xanchor="center", yanchor="middle", font=dict(size=15.5, color="#4D4D4D", family=FONT)))
    rect(l, t - 24.3, r, t, "#D9D9D9")
    txt((l + r) / 2, t - 12, B_GENES[k], 12, color="#1A1A1A")
txt(1486, 28, "Normalized expression levels", 23.2, True)
txt(1059, 345, "Normalized counts", 23, color="#111111", angle=-90)
txt(1866, 310, "replicate", 20, anchor="left", color="#111111")
for y, lab, col in zip([343.3, 362.3, 382], ["1", "2", "3"], REP_COLORS):
    rect(1865, y - 10, 1883, y + 10, "#F2F2F2")
    dot(1874, y, 5, col, opacity=.85)
    txt(1898.6, y, lab, 19, color="#111111")

# ---------- Panel C ----------
C_BOX = (170.2, 703, 839, 1395)
rect(*C_BOX, GREY_BG)
add_axes(9, C_BOX,
         dict(GRID, range=[-1.12, 14.84], tickvals=[0, 5, 10], zeroline=False, ticklen=4,
              tickfont=dict(size=18, color="#4D4D4D"), minor=MINOR([2.5, 7.5, 12.5])),
         dict(GRID, range=[-6.52, 12.48], tickvals=[-5, 0, 5, 10], zeroline=False, ticklen=4,
              tickfont=dict(size=18, color="#4D4D4D"), minor=MINOR([-2.5, 2.5, 7.5])))
C_GREEN = "#2EBD50"
C_GREY = "#999999"
fig.add_trace(go.Scatter(x=ENV_X + ENV_X[::-1], y=GREEN_UP + GREEN_LO[::-1], mode="lines", fill="toself", xaxis="x9", yaxis="y9",
                         fillcolor=C_GREEN, line=dict(color=C_GREEN, width=3), name="TRUE (dense)"))
for pts in (GREEN_TOP, GREEN_MID_UP, GREEN_MID_LO, GREEN_EDGE_UP, GREEN_EDGE_LO, GREEN_FILL_UP, GREEN_FILL_LO, GREEN_BOTTOM):
    fig.add_trace(go.Scatter(x=[p[0] for p in pts], y=[p[1] for p in pts], mode="markers", xaxis="x9", yaxis="y9", name="TRUE",
                             marker=dict(size=5.5, color=C_GREEN, opacity=.95, line=dict(width=0))))
fig.add_trace(go.Scatter(x=ENV_X + ENV_X[::-1], y=GREY_UP + GREY_LO[::-1], mode="lines", fill="toself", xaxis="x9", yaxis="y9",
                         fillcolor=C_GREY, line=dict(color=C_GREY, width=3), name="FALSE (dense)"))
fig.add_trace(go.Scatter(x=[p[0] for p in GREY_POINTS], y=[p[1] for p in GREY_POINTS], mode="markers", xaxis="x9", yaxis="y9", name="FALSE",
                         marker=dict(size=5.5, color=C_GREY, opacity=.95, line=dict(width=0))))
txt(168, 683, "M−A plot", 24, True, anchor="left", family="DejaVu Sans")
txt(122, 1048, "logFC", 20.5, True, angle=-90, family="DejaVu Sans")
txt(504, 1428, "logCPM", 22, True, family="DejaVu Sans")
txt(858, 1026, "DEG", 22, True, anchor="left")
rect(858.6, 1046, 880, 1083, "#F2F2F2")
dot(869.6, 1055, 2.7, C_GREY)
dot(869.6, 1073.4, 2.7, C_GREEN)
txt(892, 1055, "FALSE", 10, anchor="left", color="#111111")
txt(892, 1073.4, "TRUE", 10, anchor="left", color="#111111")

# ---------- Panel D ----------
edges = [0]
for s in HEAT_SPANS:
    edges.append(edges[-1] + s)
ZMAX = HEAT_STOPS[-1]
colorscale = [[v / ZMAX, c] for v, c in zip(HEAT_STOPS, HEAT_HEX)]
HX0, HX1 = 1104.3, 1756.4
add_axes(10, (HX0, 794, HX1, 1333.3),
         dict(type="category", categoryorder="array", categoryarray=HEAT_LABELS, showgrid=False, zeroline=False, ticks="", ticklen=0,
              tickangle=90, tickfont=dict(size=22, color="black")),
         dict(range=[edges[-1], 0], visible=False, showgrid=False, zeroline=False))
fig.add_trace(go.Heatmap(z=HEAT_ROWS, x=HEAT_LABELS, y=edges, xaxis="x10", yaxis="y10", zmin=0, zmax=ZMAX, colorscale=colorscale,
                         colorbar=dict(x=1763 / W, xanchor="left", y=1 - 794 / H, yanchor="top", lenmode="pixels", len=198,
                                       thicknessmode="pixels", thickness=13, outlinewidth=0, xpad=0, ypad=0, ticks="",
                                       tickvals=[0, 2, 4, 6, 8, 10], tickfont=dict(size=19, color="#111111"))))
annot_scale = []
for i, c in enumerate(ANNOT_COLORS):
    annot_scale += [[i / 8, c], [(i + 1) / 8, c]]
add_axes(11, (HX0, 766.7, HX1, 789.7),
         dict(visible=False, range=[0, 24], showgrid=False, zeroline=False),
         dict(visible=False, showgrid=False, zeroline=False))
fig.add_trace(go.Heatmap(z=[ANNOT_CODES], x0=.5, dx=1, y=["sample"], xaxis="x11", yaxis="y11", zmin=-.5, zmax=7.5, colorscale=annot_scale, showscale=False))

def merge_lines(merges):
    a, b = [], []
    for p0, p1, h, h0, h1 in merges:
        a += [p0, p0, p1, p1, None]
        b += [h0, h, h, h1, None]
    return a, b

add_axes(12, (HX0, 696.7, HX1, 766.7),
         dict(visible=False, range=[0, 24], showgrid=False, zeroline=False),
         dict(visible=False, range=[0, 70], showgrid=False, zeroline=False))
cx, cy = merge_lines(COL_MERGES)
fig.add_trace(go.Scatter(x=cx, y=cy, mode="lines", xaxis="x12", yaxis="y12", line=dict(color="black", width=1.5), cliponaxis=False))

add_axes(13, (1030, 794, HX0, 1333.3),
         dict(visible=False, range=[74.3, 0], showgrid=False, zeroline=False),
         dict(visible=False, range=[539.3, 0], showgrid=False, zeroline=False))
ry, rx = merge_lines(ROW_MERGES)
fig.add_trace(go.Scatter(x=rx, y=ry, mode="lines", xaxis="x13", yaxis="y13", line=dict(color="black", width=1.5), cliponaxis=False))
fig.add_trace(go.Scatter(x=CORE_H + [0, 0], y=CORE_POS + [CORE_POS[-1], CORE_POS[0]], mode="lines", fill="toself", fillcolor="black",
                         xaxis="x13", yaxis="y13", line=dict(color="black", width=1)))

txt(1430, 678, "Log expression for DE genes under heat stress", 28.9, True)
txt(1760, 779, "sample", 20.5, True, anchor="left")
txt(1826, 803, "sample", 20.5, True, anchor="left")
for i, (name, col) in enumerate(zip(ANNOT_NAMES, ANNOT_COLORS)):
    rect(1827, 817 + 32.3 * i, 1859, 817 + 32.3 * (i + 1), col)
    txt(1866, 817 + 32.3 * (i + .5), name, 20, anchor="left", color="#111111")

# Panel letters
txt(0, 20, "A", 57, anchor="left")
txt(1037, 28, "B", 57, anchor="left")
txt(10, 694, "C", 57, anchor="left")
txt(999, 688, "D", 57, anchor="left")

layout["annotations"] = annotations
layout["shapes"] = shapes
fig.update_layout(**layout)
fig.write_html("out.html", config={"displayModeBar": False},
               post_script="document.body.style.margin='0';document.body.style.overflow='hidden';")
